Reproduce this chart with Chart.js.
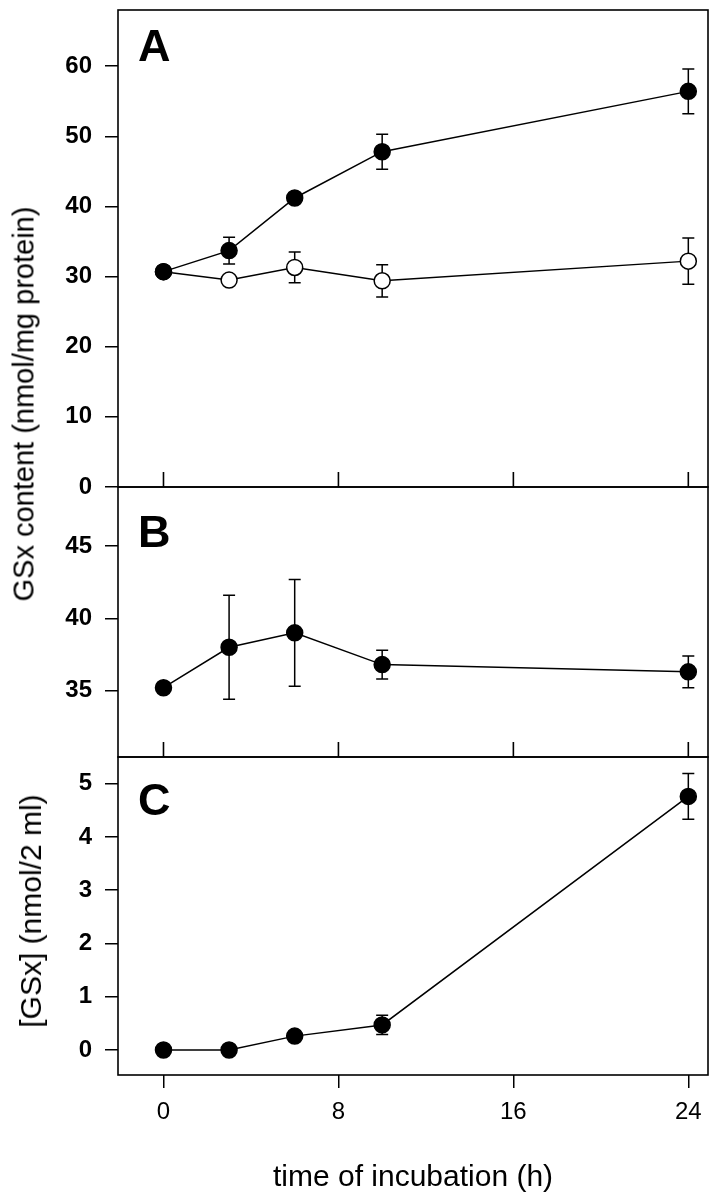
<!DOCTYPE html>
<html>
<head>
<meta charset="utf-8">
<script src="https://cdn.jsdelivr.net/npm/chart.js@4.4.1/dist/chart.umd.min.js"></script>
<style>
  body { margin: 0; background: #fff; }
  #wrap { position: relative; width: 716px; height: 1200px; overflow: hidden; }
  #wrap canvas { position: absolute; left: 0; }
  .ylab {
    position: absolute; white-space: nowrap; color: #000; line-height: 1;
    font-family: "Liberation Sans", Arial, sans-serif;
    font-size: 29px; transform: translate(-50%, -50%) rotate(-90deg);
  }
</style>
</head>
<body>
<div id="wrap">
  <canvas id="chartA"></canvas>
  <canvas id="chartB"></canvas>
  <canvas id="chartC"></canvas>
  <div class="ylab" style="left:24px; top:404px;">GSx content (nmol/mg protein)</div>
  <div class="ylab" style="left:31px; top:911px; font-size:30px;">[GSx] (nmol/2 ml)</div>
</div>
<script>
// time points (h)
const hours = [0, 3, 6, 10, 24];

// panel A: GSx content, two series
const aFilled = [30.7, 33.7, 41.2, 47.8, 56.4];
const aFilledErr = [0, 1.9, 0, 2.5, 3.2];
const aOpen = [30.7, 29.5, 31.3, 29.4, 32.2];
const aOpenErr = [0, 0, 2.2, 2.3, 3.3];

// panel B
const bValues = [35.2, 38.0, 39.0, 36.8, 36.3];
const bErr = [0, 3.6, 3.7, 1.0, 1.1];

// panel C: [GSx] in medium
const cValues = [0, 0, 0.26, 0.47, 4.76];
const cErr = [0, 0, 0, 0.18, 0.43];

const xTicks = [0, 8, 16, 24];
const X_MIN = -2.08, X_MAX = 24.9;
const AXIS_W = 118;

function pts(ys) {
    return hours.map((h, i) => ({ x: h, y: ys[i] }));
}

// error bars, drawn under the markers
const errorBars = {
    id: 'errorBars',
    beforeDatasetsDraw(chart) {
        const ctx = chart.ctx;
        const xs = chart.scales.x, ys = chart.scales.y;
        ctx.save();
        ctx.strokeStyle = '#000';
        ctx.lineWidth = 1.5;
        chart.data.datasets.forEach(ds => {
            (ds.err || []).forEach((e, i) => {
                if (!e) return;
                const p = ds.data[i];
                const px = xs.getPixelForValue(p.x);
                const top = ys.getPixelForValue(p.y + e);
                const bot = ys.getPixelForValue(p.y - e);
                ctx.beginPath();
                ctx.moveTo(px, top); ctx.lineTo(px, bot);
                ctx.moveTo(px - 6, top); ctx.lineTo(px + 6, top);
                ctx.moveTo(px - 6, bot); ctx.lineTo(px + 6, bot);
                ctx.stroke();
            });
        });
        ctx.restore();
    }
};

// box round the plot, inward x ticks, panel letter
const frame = {
    id: 'frame',
    afterDraw(chart, args, opts) {
        const ctx = chart.ctx;
        const a = chart.chartArea;
        ctx.save();
        ctx.strokeStyle = '#000';
        ctx.lineWidth = 1.6;
        ctx.strokeRect(a.left, a.top, a.right - a.left, a.bottom - a.top);
        if (opts.innerTicks) {
            ctx.beginPath();
            xTicks.forEach(t => {
                const px = chart.scales.x.getPixelForValue(t);
                ctx.moveTo(px, a.bottom);
                ctx.lineTo(px, a.bottom - 15);
            });
            ctx.stroke();
        }
        ctx.fillStyle = '#000';
        ctx.font = 'bold 45px "Liberation Sans", Arial, sans-serif';
        ctx.textBaseline = 'alphabetic';
        ctx.fillText(opts.letter, a.left + 20, a.top + opts.letterY);
        ctx.restore();
    }
};

const tickFont = { family: '"Liberation Sans", Arial, sans-serif', size: 24, weight: 'bold' };

function makeChart(id, cfg) {
    const canvas = document.getElementById(id);
    canvas.style.top = cfg.top + 'px';
    canvas.width = 716;
    canvas.height = cfg.height;
    canvas.style.width = '716px';
    canvas.style.height = cfg.height + 'px';

    const showX = !!cfg.showX;
    return new Chart(canvas, {
        type: 'line',
        data: { datasets: cfg.datasets },
        options: {
            responsive: false,
            animation: false,
            events: [],
            layout: { autoPadding: false, padding: { top: cfg.padTop, right: 8, bottom: cfg.padBottom, left: 0 } },
            plugins: {
                legend: { display: false },
                tooltip: { enabled: false },
                frame: { letter: cfg.letter, letterY: cfg.letterY, innerTicks: !showX }
            },
            scales: {
                x: {
                    type: 'linear',
                    min: X_MIN, max: X_MAX,
                    display: showX,
                    afterBuildTicks(s) { s.ticks = xTicks.map(v => ({ value: v })); },
                    afterFit(s) {
                        if (showX) s.height = cfg.xHeight;
                        s.paddingLeft = 0; s.paddingRight = 0;
                    },
                    grid: { display: true, drawOnChartArea: false, drawTicks: true, tickLength: 13, color: '#000', lineWidth: 1.5 },
                    border: { display: false },
                    ticks: {
                        color: '#000', padding: 10,
                        font: { family: '"Liberation Sans", Arial, sans-serif', size: 24 }
                    },
                    title: {
                        display: showX,
                        text: 'time of incubation (h)',
                        color: '#000',
                        padding: { top: 24 },
                        font: { family: '"Liberation Sans", Arial, sans-serif', size: 30 }
                    }
                },
                y: {
                    min: cfg.yMin, max: cfg.yMax,
                    afterFit(s) {
                        s.width = AXIS_W;
                        s.paddingTop = 0; s.paddingBottom = 0;
                    },
                    grid: { display: true, drawOnChartArea: false, drawTicks: true, tickLength: 13, color: '#000', lineWidth: 1.5 },
                    border: { display: false },
                    ticks: {
                        stepSize: cfg.yStep, includeBounds: false,
                        color: '#000', padding: 13, font: tickFont
                    }
                }
            }
        },
        plugins: [errorBars, frame]
    });
}

function series(ys, err, fill) {
    return {
        data: pts(ys), err: err,
        borderColor: '#000', borderWidth: 1.5,
        pointRadius: 8, pointBorderWidth: 1.5,
        pointBackgroundColor: fill, pointBorderColor: '#000',
        tension: 0
    };
}

makeChart('chartA', {
    top: 0, height: 510, padTop: 10, padBottom: 23,
    yMin: 0, yMax: 68, yStep: 10, letter: 'A', letterY: 51,
    datasets: [series(aFilled, aFilledErr, '#000'), series(aOpen, aOpenErr, '#fff')]
});

makeChart('chartB', {
    top: 480, height: 300, padTop: 7, padBottom: 23,
    yMin: 30.4, yMax: 49.1, yStep: 5, letter: 'B', letterY: 60,
    datasets: [series(bValues, bErr, '#000')]
});

makeChart('chartC', {
    top: 745, height: 455, padTop: 12, padBottom: 0, xHeight: 125,
    yMin: -0.47, yMax: 5.5, yStep: 1, letter: 'C', letterY: 58,
    datasets: [series(cValues, cErr, '#000')],
    showX: true
});
</script>
</body>
</html>
